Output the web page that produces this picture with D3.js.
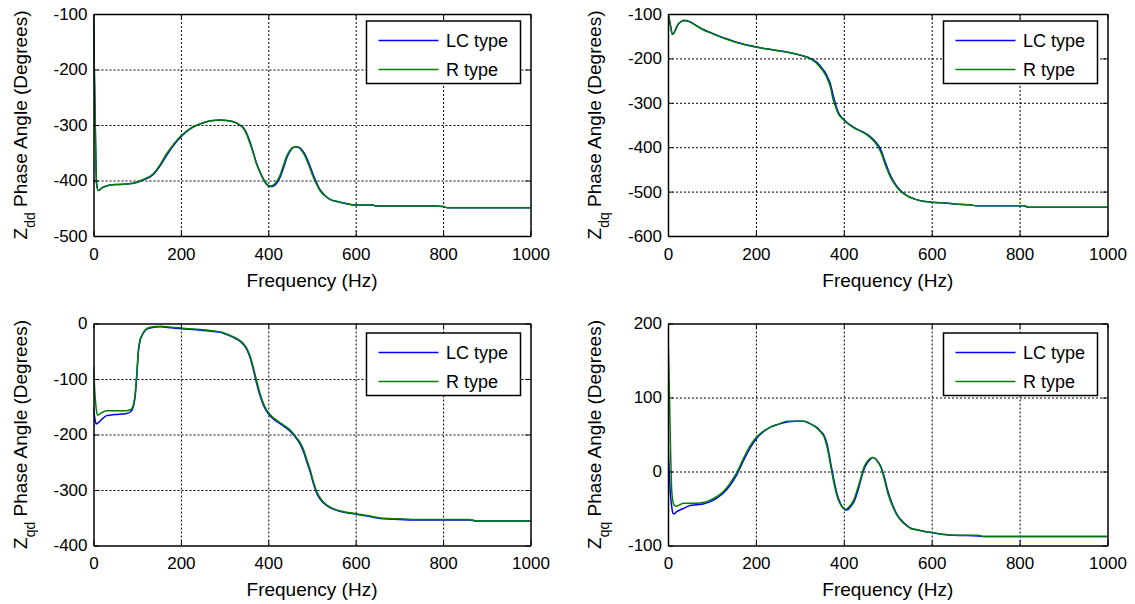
<!DOCTYPE html>
<html>
<head>
<meta charset="utf-8">
<script src="https://cdn.jsdelivr.net/npm/d3@7"></script>
<style>
  body { margin: 0; background: #fff; }
  svg { display: block; font-family: "Liberation Sans", Arial, Helvetica, sans-serif; }
</style>
</head>
<body>
<div class="chart"></div>
<script>
// ---- data ----
const seriesNames = ["LC type", "R type"];
const xTicks = [0, 200, 400, 600, 800, 1000];

// Z_dd
const zddTicks = [-500, -400, -300, -200, -100];
const zddFreq = [0, 1, 4, 7, 11, 20, 38, 60, 91, 114, 137, 152, 167, 183, 198, 213, 228, 244, 259, 274, 289, 305, 320, 335, 343, 350, 358, 366, 373, 381, 389, 395, 400, 405, 412, 419, 427, 435, 442, 450, 457, 463, 470, 477, 484, 493, 503, 510, 518, 530, 541, 552, 564, 587, 600, 640, 645, 780, 800, 810, 1000];
const zddLC = [-110, -160, -300, -405, -418, -413, -408, -407, -405, -399, -389, -374, -355, -337, -323, -312, -304, -298, -294, -292, -291, -292, -294, -300, -305, -314, -330, -350, -369, -385, -398, -406, -410, -411, -410, -405, -394, -377, -360, -347, -341, -339, -340, -345, -353, -369, -390, -403, -416, -427, -434, -437, -439, -443, -444, -444, -446, -446, -447, -449, -449];
const zddR = [-110, -160, -300, -405, -418, -413, -408, -407, -405, -398, -388, -372, -352, -335, -321, -311, -303, -298, -294, -292, -291, -292, -294, -300, -306, -316, -333, -352, -370, -385, -397, -405, -409, -410, -408, -402, -390, -372, -356, -345, -340, -339, -341, -347, -356, -373, -394, -406, -418, -428, -434, -437, -439, -443, -444, -444, -446, -446, -447, -449, -449];

// Z_dq
const zdqTicks = [-600, -500, -400, -300, -200, -100];
const zdqFreq = [0, 3, 6, 10, 14, 18, 24, 30, 36, 44, 51, 65, 81, 100, 120, 140, 158, 177, 196, 215, 234, 253, 272, 291, 310, 322, 333, 341, 348, 356, 364, 370, 375, 381, 386, 393, 401, 412, 424, 440, 455, 467, 478, 486, 493, 499, 505, 514, 524, 535, 547, 562, 577, 600, 638, 650, 690, 700, 810, 820, 1000];
const zdqLC = [-100, -112, -128, -146, -142, -133, -122, -117, -114, -115, -118, -126, -135, -143, -151, -158, -164, -169, -173, -177, -180, -183, -186, -190, -195, -199, -205, -211, -219, -229, -244, -259, -280, -302, -318, -330, -339, -348, -356, -364, -372, -382, -395, -410, -430, -446, -461, -478, -492, -503, -511, -517, -521, -524, -526, -528, -530, -532, -532, -535, -535];
const zdqR = [-100, -112, -128, -146, -142, -133, -122, -117, -115, -116, -119, -127, -136, -144, -152, -159, -165, -170, -174, -177, -180, -183, -186, -190, -195, -200, -207, -214, -222, -233, -249, -266, -290, -308, -322, -332, -340, -349, -357, -365, -374, -385, -399, -415, -436, -451, -465, -481, -494, -504, -511, -517, -521, -524, -526, -528, -530, -532, -532, -535, -535];

// Z_qd
const zqdTicks = [-400, -300, -200, -100, 0];
const zqdFreq = [0, 2, 4, 6, 9, 14.5, 20, 30, 50, 76, 85, 88, 92, 95.5, 99, 103, 107, 111, 116, 122, 135, 153, 170, 183, 210, 244, 270, 290, 305, 320, 332, 343, 351, 359, 366, 374, 381, 389, 397, 405, 420, 435, 450, 466, 474, 481, 488, 496, 503, 511, 522, 534, 550, 565, 595, 626, 640, 664, 700, 729, 860, 877, 1000];
const zqdLC = [-150, -165, -175, -181, -180, -176, -172, -166, -164, -162, -159, -156, -147, -130, -95, -50, -30, -22, -15, -10, -7, -6, -7, -8, -10, -12, -14, -16, -20, -25, -30, -38, -47, -63, -84, -110, -130, -147, -159, -167, -177, -185, -194, -209, -219, -232, -249, -268, -288, -306, -320, -328, -335, -339, -343, -347, -349, -352, -353, -354, -354, -356, -356];
const zqdR = [-78, -110, -135, -152, -165, -163, -160, -157, -157, -157, -155, -153, -144, -126, -90, -45, -28, -21, -14, -9, -6, -5, -6, -7, -9, -11, -13, -15, -19, -24, -29, -36, -45, -60, -80, -105, -126, -144, -157, -165, -175, -183, -192, -207, -216, -228, -245, -264, -284, -303, -318, -327, -334, -338, -342, -346, -348, -351, -352, -353, -353, -356, -356];

// Z_qq
const zqqTicks = [-100, 0, 100, 200];
const zqqFreq = [0, 2, 4, 6, 8, 10, 12, 15, 18, 27, 35, 50, 65, 80, 95, 111, 126, 141, 156, 172, 187, 202, 218, 233, 252, 271, 290, 309, 325, 340, 348, 355, 362, 370, 377, 385, 393, 400, 404, 410, 416, 423, 431, 439, 446, 454, 461, 465, 470, 477, 484, 492, 500, 511, 523, 538, 553, 568, 584, 606, 629, 650, 705, 720, 1000];
const zqqLC = [42, 10, -15, -35, -45, -54, -57, -57, -55, -52, -50, -46, -45, -44, -41, -36, -29, -19, -5, 15, 32, 45, 54, 60, 64, 67, 68, 68, 64, 59, 54, 49, 37, 12, -10, -31, -44, -50, -52, -51, -47, -41, -28, -11, 3, 12, 17, 19, 18, 14, 7, -7, -26, -45, -60, -70, -77, -79, -81, -83, -85, -86, -87, -88, -88];
const zqqR = [180, 140, 83, 25, -20, -36, -43, -46, -47, -45, -43, -43, -43, -42, -39, -34, -27, -16, -2, 18, 35, 47, 55, 60, 64, 68, 68, 68, 64, 58, 53, 47, 33, 8, -14, -34, -45, -50, -51, -49, -45, -38, -24, -8, 6, 14, 18, 19, 18, 13, 6, -10, -29, -47, -61, -71, -77, -79, -81, -83, -85, -86, -86, -88, -88];

// ---- layout ----
const width = 1135, height = 604;
const colors = ["#0000ff", "#008000"];
const panels = [
  { sub: "dd", freq: zddFreq, lc: zddLC, r: zddR, ticks: zddTicks, left: 93.5, right: 530.5, top: 14, bottom: 236, legTop: 7 },
  { sub: "dq", freq: zdqFreq, lc: zdqLC, r: zdqR, ticks: zdqTicks, left: 668, right: 1107.5, top: 14, bottom: 236, legTop: 7 },
  { sub: "qd", freq: zqdFreq, lc: zqdLC, r: zqdR, ticks: zqdTicks, left: 93.5, right: 530.5, top: 323.5, bottom: 545.5, legTop: 9.5 },
  { sub: "qq", freq: zqqFreq, lc: zqqLC, r: zqqR, ticks: zqqTicks, left: 668, right: 1107.5, top: 323.5, bottom: 545.5, legTop: 9.5 }
];

const plain = d => String(d); // hyphen minus, no thousands separator

const svg = d3.select(".chart")
  .append("svg")
  .attr("width", width)
  .attr("height", height)
  .attr("viewBox", [0, 0, width, height]);

svg.append("rect").attr("width", width).attr("height", height).attr("fill", "#fff");

panels.forEach((p, i) => {
  const w = p.right - p.left, h = p.bottom - p.top;
  const g = svg.append("g").attr("transform", `translate(${p.left},${p.top})`);

  const x = d3.scaleLinear().domain([0, 1000]).range([0, w]);
  const y = d3.scaleLinear().domain(d3.extent(p.ticks)).range([h, 0]);

  // dotted grid
  g.append("g")
    .attr("transform", `translate(0,${h})`)
    .call(d3.axisBottom(x).tickValues(xTicks.slice(1, -1)).tickSize(-h).tickFormat(""))
    .call(a => a.select(".domain").remove())
    .call(a => a.selectAll("line").attr("stroke", "#000").attr("stroke-dasharray", "2,2"));
  g.append("g")
    .call(d3.axisLeft(y).tickValues(p.ticks.slice(1, -1)).tickSize(-w).tickFormat(""))
    .call(a => a.select(".domain").remove())
    .call(a => a.selectAll("line").attr("stroke", "#000").attr("stroke-dasharray", "2,2"));

  // curves
  const clipId = "clip" + i;
  g.append("clipPath").attr("id", clipId)
    .append("rect").attr("width", w).attr("height", h);
  const line = d3.line().curve(d3.curveMonotoneX);
  [p.lc, p.r].forEach((vals, k) => {
    g.append("path")
      .attr("clip-path", `url(#${clipId})`)
      .attr("d", line(p.freq.map((f, j) => [x(f), y(vals[j])])))
      .attr("fill", "none")
      .attr("stroke", colors[k])
      .attr("stroke-width", 1.5);
  });

  // axes (box with inward ticks)
  const styleAxis = a => {
    a.select(".domain").attr("stroke", "#000").attr("stroke-width", 1.5);
    a.selectAll(".tick line").attr("stroke", "#000").attr("stroke-width", 1);
  };
  g.append("g").attr("transform", `translate(0,${h})`)
    .call(d3.axisBottom(x).tickValues(xTicks).tickFormat(plain).tickSizeInner(-5).tickSizeOuter(0).tickPadding(11.5))
    .call(styleAxis)
    .call(a => a.selectAll("text").attr("font-size", 17).attr("font-family", null).attr("fill", "#000"));
  g.append("g")
    .call(d3.axisTop(x).tickValues(xTicks).tickSizeInner(-5).tickSizeOuter(0).tickFormat(""))
    .call(styleAxis);
  g.append("g")
    .call(d3.axisLeft(y).tickValues(p.ticks).tickFormat(plain).tickSizeInner(-5).tickSizeOuter(0).tickPadding(6))
    .call(styleAxis)
    .call(a => a.selectAll("text").attr("font-size", 17).attr("font-family", null).attr("fill", "#000"));
  g.append("g").attr("transform", `translate(${w},0)`)
    .call(d3.axisRight(y).tickValues(p.ticks).tickSizeInner(-5).tickSizeOuter(0).tickFormat(""))
    .call(styleAxis);

  // axis labels
  g.append("text")
    .attr("x", w / 2)
    .attr("y", h + 50.5)
    .attr("text-anchor", "middle")
    .attr("font-size", 19)
    .text("Frequency (Hz)");

  const yl = g.append("text")
    .attr("transform", `translate(-67,${h / 2}) rotate(-90)`)
    .attr("text-anchor", "middle")
    .attr("font-size", 19);
  yl.append("tspan").text("Z");
  yl.append("tspan").attr("dy", 8).attr("font-size", 14).text(p.sub);
  yl.append("tspan").attr("dy", -8).text(" Phase Angle (Degrees)");

  // legend
  const lg = g.append("g").attr("transform", `translate(${w - 164},${p.legTop})`);
  lg.append("rect")
    .attr("width", 154).attr("height", 62.5)
    .attr("fill", "#fff").attr("stroke", "#000").attr("stroke-width", 1.5);
  seriesNames.forEach((name, k) => {
    const cy = 19.5 + k * 29;
    lg.append("line")
      .attr("x1", 12).attr("x2", 72).attr("y1", cy).attr("y2", cy)
      .attr("stroke", colors[k]).attr("stroke-width", 1.5);
    lg.append("text")
      .attr("x", 79.5).attr("y", cy).attr("dy", "0.35em")
      .attr("font-size", 18)
      .text(name);
  });
});
</script>
</body>
</html>
